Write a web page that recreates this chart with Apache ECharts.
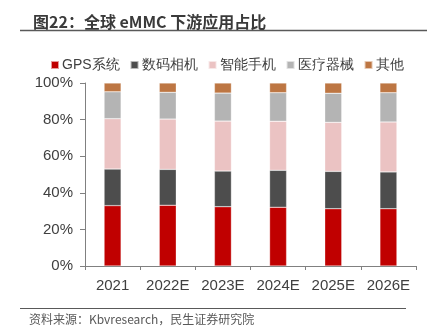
<!DOCTYPE html>
<html><head><meta charset="utf-8">
<script src="https://cdn.jsdelivr.net/npm/echarts@6/dist/echarts.min.js"></script>
<style>html,body{margin:0;padding:0;background:#fff}#c{width:427px;height:329px}</style>
</head><body><div id="c"></div>
<script>
const categories = ['2021','2022E','2023E','2024E','2025E','2026E'];
const gps    = [33.0, 33.2, 32.4, 32.1, 31.3, 31.3];
const camera = [20.0, 19.6, 19.5, 20.2, 20.4, 20.1];
const phone  = [27.5, 27.5, 27.3, 26.8, 26.8, 27.3];
const medical= [14.7, 14.6, 15.3, 15.6, 15.9, 16.0];
const other  = [4.8, 5.1, 5.5, 5.3, 5.6, 5.3];
const yTicks = [0, 20, 40, 60, 80, 100];

const names = ['GPS系统','数码相机','智能手机','医疗器械','其他'];
const colors = ['#C00000','#4D4D4D','#EBC3C3','#B4B4B4','#BD7643'];
const datas = [gps, camera, phone, medical, other];
const latin = 'Liberation Sans';
const cjk = 'Noto Sans CJK SC';

const chart = echarts.init(document.getElementById('c'));
chart.setOption({
  animation: false,
  title: {
    text: '图22：全球 eMMC 下游应用占比',
    left: 28, top: 9,
    textStyle: { fontSize: 16, fontWeight: 'bold', color: '#3a3a3a', fontFamily: cjk }
  },
  graphic: [
    { type: 'line', shape: { x1: 20, y1: 30.5, x2: 427, y2: 30.5 }, style: { stroke: '#595959', lineWidth: 1.5 } },
    { type: 'line', shape: { x1: 20, y1: 308.5, x2: 406, y2: 308.5 }, style: { stroke: '#595959', lineWidth: 1 } },
    { type: 'text', left: 29, top: 313, style: { text: '资料来源：Kbvresearch，民生证券研究院', fontSize: 12, fill: '#595959', fontFamily: cjk } }
  ],
  legend: {
    top: 53, left: 45,
    itemWidth: 8, itemHeight: 8, itemGap: 10,
    icon: 'rect',
    textStyle: { fontSize: 14, color: '#404040', padding: [0, 0, 0, -2], fontFamily: latin },
    data: names
  },
  grid: { left: 85, right: 11, top: 83, bottom: 63 },
  xAxis: {
    type: 'category', data: categories,
    axisLine: { lineStyle: { color: '#808080', width: 1 } },
    axisTick: { show: true, length: 4, lineStyle: { color: '#808080' } },
    axisLabel: { fontSize: 15, color: '#404040', margin: 12, interval: 0, fontFamily: latin }
  },
  yAxis: {
    type: 'value', min: yTicks[0], max: yTicks[yTicks.length - 1], interval: 20,
    splitLine: { show: false },
    axisLine: { show: true, lineStyle: { color: '#808080', width: 1 } },
    axisTick: { show: true, length: 5, lineStyle: { color: '#808080' } },
    axisLabel: { fontSize: 15, color: '#404040', margin: 12, fontFamily: latin, formatter: v => v + '%' }
  },
  series: names.map((n, i) => ({
    name: n, type: 'bar', stack: 'total', data: datas[i], barWidth: 17,
    itemStyle: { color: colors[i], borderColor: 'rgba(255,255,255,0.6)', borderWidth: 0.5 }
  }))
});
</script></body></html>
